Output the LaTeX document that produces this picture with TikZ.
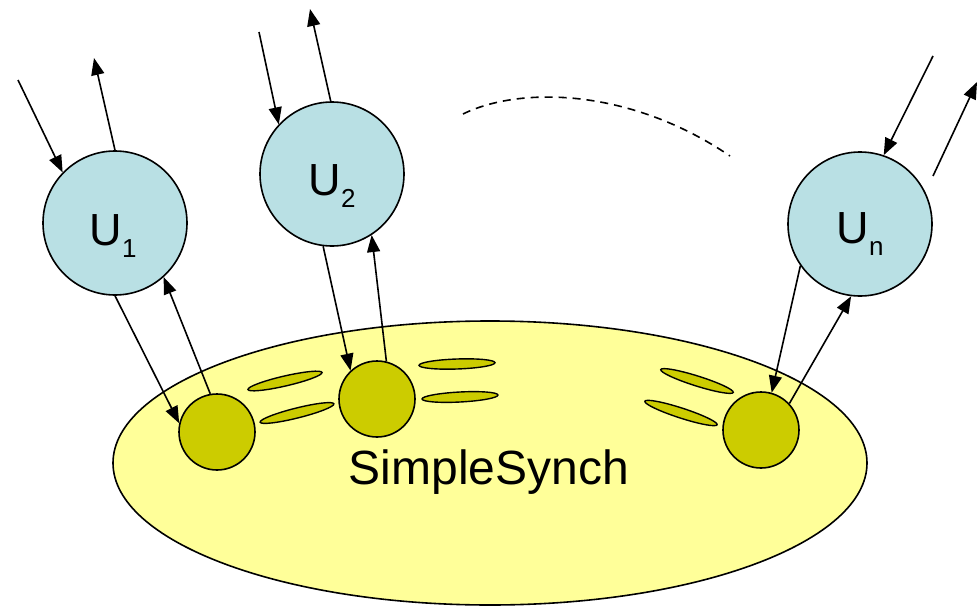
\documentclass[tikz,border=0pt]{standalone}
\usepackage{fontspec}
\setmainfont{Liberation Sans}
\usetikzlibrary{arrows.meta}

\definecolor{userblue}{RGB}{185,224,228}
\definecolor{synchyellow}{RGB}{255,255,153}
\definecolor{procolive}{RGB}{204,204,0}

% lowered index for the user labels
\newcommand\usub[1]{\raisebox{-12pt}{\fontsize{26}{26}\selectfont #1}}

\tikzset{
  user/.style={circle, draw, line width=1.6pt, fill=userblue,
               minimum size=144pt, inner sep=0pt},
  proc/.style={circle, draw, line width=1.6pt, fill=procolive,
               minimum size=76pt, inner sep=0pt},
  channel/.style={draw, line width=1.4pt, fill=procolive},
  synch/.style={draw, line width=1.6pt, fill=synchyellow},
  msg/.style={line width=1.6pt, -{Triangle[length=17pt,width=13pt]}},
  ulabel/.style={font=\fontsize{45}{45}\selectfont, inner sep=0pt, anchor=base},
  biglabel/.style={font=\fontsize{48}{48}\selectfont, inner sep=0pt, anchor=base},
}

\begin{document}
\begin{tikzpicture}[x=1pt,y=-1pt]
  \useasboundingbox (0,0) rectangle (978,608);

  % the synchronizer
  \draw[synch] (490,463) ellipse [x radius=377, y radius=142];
  \node[biglabel] (synchname) at (489,484) {SimpleSynch};

  % channels between the local processes
  \draw[channel] (285,381) ellipse [x radius=38, y radius=5, rotate=13];
  \draw[channel] (297,413) ellipse [x radius=38, y radius=5, rotate=14];
  \draw[channel] (457,364) ellipse [x radius=38, y radius=5, rotate=2];
  \draw[channel] (460,397) ellipse [x radius=38, y radius=5, rotate=3];
  \draw[channel] (697,381) ellipse [x radius=38, y radius=5, rotate=-17.5];
  \draw[channel] (681,413) ellipse [x radius=38, y radius=5, rotate=-18];

  % local processes
  \node[proc] (c1) at (217,432) {};
  \node[proc] (c2) at (377,399) {};
  \node[proc] (c3) at (761,430) {};

  % users
  \node[user] (U1) at (115,223) {};
  \node[user] (U2) at (332,174) {};
  \node[user] (Un) at (860,224) {};
  \node[ulabel] (U1t) at (113,245) {U\usub{1}};
  \node[ulabel] (U2t) at (332,195) {U\usub{2}};
  \node[ulabel] (Unt) at (860,243) {U\usub{n}};

  % further users
  \draw[line width=1.6pt, dash pattern=on 8pt off 6pt]
    (463,114) .. controls (520,86) and (630,88) .. (730,156);

  % outside ends of the user interface arrows
  \coordinate (a1in)  at (18,80);
  \coordinate (a1out) at (94,58);
  \coordinate (a2in)  at (259,32);
  \coordinate (a2out) at (310,9);
  \coordinate (aNin)  at (933,56);
  \coordinate (aNsrc) at (933,176);
  \coordinate (aNout) at (977,82);

  % user interface
  \draw[msg] (a1in) -- (U1.136);
  \draw[msg] (U1.90) -- (a1out);
  \draw[msg] (a2in) -- (U2.137);
  \draw[msg] (U2.91) -- (a2out);
  \draw[msg] (aNin) -- (Un.71);
  \draw[msg] (aNsrc) -- (aNout);

  % users to local processes
  \draw[msg] (U1.-90) -- (c1.167);
  \draw[msg] (c1.100) -- (U1.-48);
  \draw[msg] (U2.-97) -- (c2.133);
  \draw[msg] (c2.76) -- (U2.-57);
  \draw[msg] (Un.215) -- (c3.74);
  \draw[msg] (c3.43) -- (Un.-97);
\end{tikzpicture}
\end{document}
